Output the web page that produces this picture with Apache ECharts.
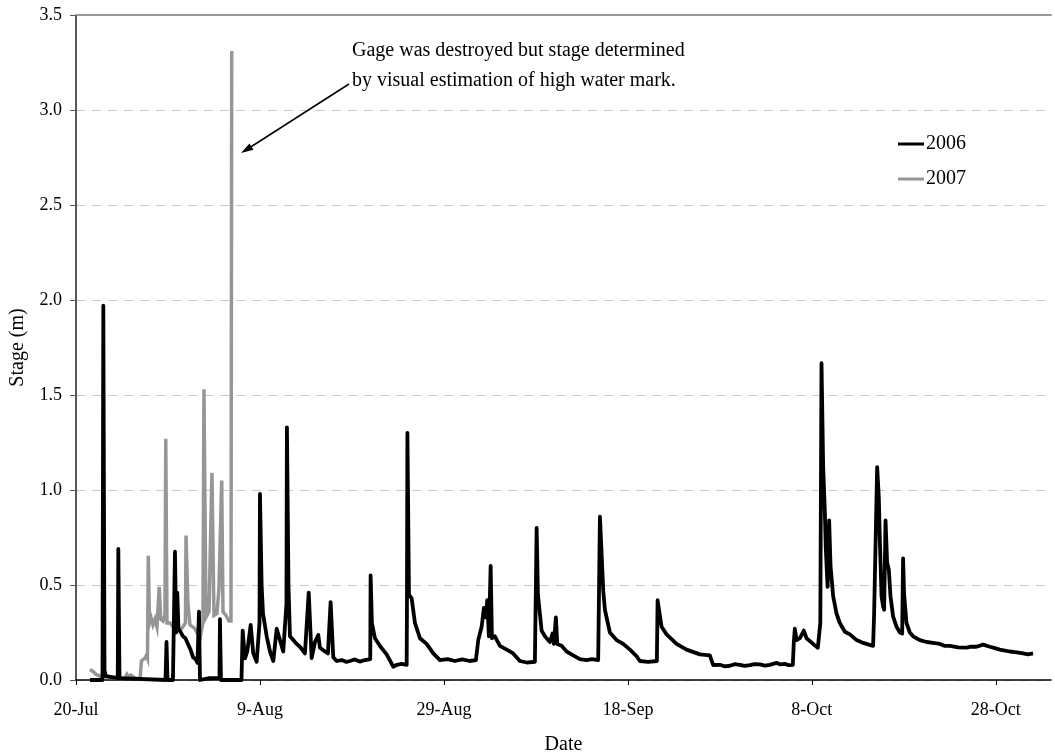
<!DOCTYPE html>
<html>
<head>
<meta charset="utf-8">
<script src="https://cdn.jsdelivr.net/npm/echarts@6/dist/echarts.min.js"></script>
<style>
  html, body { margin: 0; padding: 0; background: #fff; }
  #chart { width: 1055px; height: 752px; }
</style>
</head>
<body>
<div id="chart"></div>
<script>
// Stage record, x = days after 20 July, y = stage in metres
const tickDays = [0, 20, 40, 60, 80, 100];
const tickLabels = ['20-Jul', '9-Aug', '29-Aug', '18-Sep', '8-Oct', '28-Oct'];

const stage2006 = [
  [1.52, 0], [2.88, 0], [2.97, 1.97], [3.10, 0.05], [3.26, 0.02], [4.54, 0.01],
  [4.60, 0.69], [4.73, 0.01], [9.73, 0], [9.84, 0.20], [9.95, 0], [10.54, 0],
  [10.76, 0.675], [10.89, 0.25], [11.01, 0.46], [11.14, 0.27], [11.40, 0.25],
  [11.63, 0.23], [11.90, 0.22], [12.17, 0.19], [12.45, 0.16], [12.72, 0.12],
  [13.00, 0.11], [13.21, 0.09], [13.37, 0.36], [13.48, 0],
  [14.50, 0.01], [15.60, 0.01], [15.65, 0.32], [15.76, 0], [17.99, 0], [18.12, 0.26],
  [18.37, 0.114], [18.62, 0.15], [18.99, 0.29], [19.27, 0.14], [19.64, 0.096],
  [19.95, 0.30], [20.00, 0.98], [20.18, 0.50], [20.33, 0.35], [20.73, 0.23],
  [21.09, 0.15], [21.45, 0.10], [21.82, 0.27], [22.17, 0.21], [22.53, 0.15],
  [22.88, 0.40], [22.93, 1.33], [23.10, 0.50], [23.26, 0.23], [23.62, 0.21],
  [23.99, 0.19], [24.35, 0.175], [24.89, 0.14], [25.30, 0.46], [25.62, 0.115],
  [25.98, 0.20], [26.34, 0.237], [26.52, 0.17], [27.07, 0.15], [27.39, 0.14],
  [27.68, 0.41], [27.97, 0.12], [28.34, 0.10], [28.90, 0.105], [29.40, 0.095],
  [29.78, 0.10], [30.30, 0.108], [30.85, 0.097], [31.41, 0.105],
  [31.99, 0.11], [32.03, 0.55], [32.17, 0.30], [32.50, 0.22], [33.04, 0.18],
  [33.77, 0.135], [34.49, 0.07], [34.89, 0.08], [35.40, 0.085], [35.95, 0.08], [35.98, 0.39],
  [36.03, 1.30], [36.20, 0.45], [36.49, 0.43], [36.85, 0.30], [37.39, 0.22],
  [38.12, 0.19], [38.84, 0.14], [39.57, 0.105], [40.40, 0.11], [41.20, 0.10],
  [42.00, 0.108], [42.80, 0.10], [43.48, 0.105], [43.73, 0.21],
  [44.10, 0.28], [44.35, 0.38], [44.57, 0.33], [44.71, 0.42], [44.89, 0.23],
  [45.08, 0.60], [45.22, 0.22], [45.54, 0.23], [46.09, 0.18], [46.82, 0.16],
  [47.53, 0.14], [48.26, 0.10], [49.00, 0.092], [49.89, 0.096], [50.08, 0.80], [50.22, 0.45],
  [50.62, 0.26], [50.98, 0.23], [51.52, 0.20], [51.81, 0.245], [51.96, 0.19],
  [52.17, 0.33], [52.32, 0.19], [52.79, 0.18], [53.34, 0.15], [54.05, 0.13],
  [54.78, 0.11], [55.51, 0.105], [56.10, 0.11], [56.77, 0.105], [56.96, 0.86], [57.32, 0.47],
  [57.50, 0.37], [58.04, 0.25], [58.77, 0.21], [59.49, 0.19], [60.22, 0.16],
  [60.95, 0.125], [61.30, 0.10], [62.20, 0.095], [63.15, 0.10], [63.23, 0.42], [63.66, 0.28],
  [64.21, 0.24], [65.29, 0.19], [66.38, 0.16], [67.83, 0.135], [68.91, 0.13],
  [69.27, 0.079], [70.00, 0.08], [70.50, 0.072], [71.09, 0.075], [71.60, 0.083],
  [72.17, 0.08], [72.70, 0.074], [73.26, 0.078], [73.80, 0.084], [74.35, 0.082],
  [74.90, 0.076], [75.43, 0.08], [76.16, 0.09], [76.60, 0.082], [77.07, 0.085], [77.50, 0.078], [77.93, 0.08],
  [78.04, 0.20], [78.15, 0.27], [78.34, 0.21], [78.70, 0.22], [79.13, 0.26],
  [79.42, 0.22], [80.14, 0.19], [80.65, 0.17], [80.92, 0.30], [81.05, 1.667],
  [81.23, 1.12], [81.41, 0.89], [81.52, 0.69], [81.71, 0.49], [81.88, 0.84],
  [82.03, 0.60], [82.32, 0.44], [82.68, 0.35], [83.04, 0.30], [83.59, 0.254],
  [84.13, 0.24], [84.86, 0.21], [85.58, 0.195], [86.66, 0.18], [86.77, 0.35],
  [87.10, 1.12], [87.28, 0.96], [87.39, 0.74], [87.58, 0.44], [87.75, 0.386],
  [87.86, 0.37], [88.01, 0.84], [88.18, 0.62], [88.37, 0.58], [88.55, 0.44],
  [88.84, 0.333], [89.21, 0.28], [89.57, 0.25], [89.82, 0.245], [89.92, 0.64],
  [90.03, 0.45], [90.29, 0.30], [90.65, 0.25], [91.01, 0.23], [91.74, 0.21],
  [92.47, 0.20], [93.18, 0.195], [93.91, 0.19], [94.40, 0.18], [95.00, 0.18], [95.90, 0.172], [96.82, 0.17],
  [97.30, 0.176], [97.90, 0.175], [98.62, 0.186], [99.35, 0.175], [99.90, 0.168], [100.43, 0.16], [101.52, 0.15],
  [102.30, 0.145], [102.97, 0.14], [103.50, 0.135], [104.05, 0.14]
];

const stage2007 = [
  [1.52, 0.055], [1.85, 0.045], [2.17, 0.03], [2.61, 0.02], [3.70, 0.015],
  [4.78, 0.01], [5.33, 0.01], [5.54, 0.03], [5.76, 0.012], [5.98, 0.025],
  [6.41, 0.01], [6.96, 0.005], [7.12, 0.10], [7.28, 0.11], [7.50, 0.115],
  [7.66, 0.13], [7.77, 0.115], [7.86, 0.654], [7.99, 0.30], [8.15, 0.33],
  [8.37, 0.29], [8.59, 0.32], [8.80, 0.28], [9.05, 0.49], [9.21, 0.32],
  [9.46, 0.31], [9.67, 0.34], [9.76, 1.27], [9.89, 0.30], [10.22, 0.30],
  [10.54, 0.28], [10.87, 0.29], [11.30, 0.26], [11.63, 0.28], [11.90, 0.30],
  [11.96, 0.76], [12.17, 0.40], [12.39, 0.29], [12.93, 0.27], [13.48, 0.22],
  [13.80, 0.30], [13.91, 1.53], [14.13, 0.33], [14.46, 0.36], [14.78, 1.09],
  [15.00, 0.34], [15.33, 0.35], [15.54, 0.48], [15.84, 1.05], [15.98, 0.36],
  [16.30, 0.34], [16.63, 0.31], [16.85, 0.31], [16.90, 2.20], [16.93, 3.31]
];

const serif = "'Liberation Serif', 'Times New Roman', serif";

const chart = echarts.init(document.getElementById('chart'), null, { renderer: 'canvas' });

chart.setOption({
  animation: false,
  backgroundColor: '#ffffff',
  textStyle: { fontFamily: serif, color: '#000' },
  grid: { left: 76, top: 15, right: 4, bottom: 72, containLabel: false, outerBoundsMode: 'none' },
  legend: {
    orient: 'vertical',
    left: 893,
    top: 129,
    itemWidth: 26,
    itemHeight: 3,
    itemGap: 15,
    icon: 'rect',
    data: ['2006', '2007'],
    textStyle: { fontFamily: serif, fontSize: 20, color: '#000', padding: [0, 0, 0, -3] }
  },
  xAxis: [
    {
      type: 'value',
      min: 0,
      max: 106,
      interval: 20,
      name: 'Date',
      nameLocation: 'middle',
      nameGap: 55,
      nameTextStyle: { fontFamily: serif, fontSize: 20, color: '#000' },
      axisLine: { show: true, lineStyle: { color: '#000', width: 1.5 } },
      axisTick: {
        show: true, length: 5, inside: false,
        customValues: tickDays,
        lineStyle: { color: '#000', width: 1 }
      },
      axisLabel: {
        margin: 21,
        fontFamily: serif, fontSize: 18, color: '#000',
        customValues: tickDays,
        formatter: function (v) {
          const i = tickDays.indexOf(v);
          return i >= 0 ? tickLabels[i] : '';
        }
      },
      splitLine: { show: false }
    },
    {
      type: 'value',
      position: 'top',
      min: 0,
      max: 106,
      axisLine: { show: true, lineStyle: { color: '#999', width: 2 } },
      axisTick: { show: false },
      axisLabel: { show: false },
      splitLine: { show: false }
    }
  ],
  yAxis: {
    type: 'value',
    min: 0,
    max: 3.5,
    interval: 0.5,
    name: 'Stage (m)',
    nameLocation: 'middle',
    nameRotate: 90,
    nameGap: 48,
    nameTextStyle: { fontFamily: serif, fontSize: 20, color: '#000' },
    axisLine: { show: true, lineStyle: { color: '#555', width: 2 } },
    axisTick: { show: true, length: 6, lineStyle: { color: '#555', width: 1 } },
    axisLabel: {
      margin: 14,
      fontFamily: serif, fontSize: 18, color: '#000',
      formatter: function (v) { return v.toFixed(1); }
    },
    splitLine: {
      show: true,
      lineStyle: { color: '#c8c8c8', width: 1, type: [9, 7] }
    }
  },
  series: [
    {
      name: '2007',
      type: 'line',
      data: stage2007,
      showSymbol: false,
      symbol: 'none',
      lineStyle: { color: '#969696', width: 3.5, join: 'miter' },
      itemStyle: { color: '#969696' },
      z: 2
    },
    {
      name: '2006',
      type: 'line',
      data: stage2006,
      showSymbol: false,
      symbol: 'none',
      lineStyle: { color: '#000000', width: 3.8, join: 'round' },
      itemStyle: { color: '#000000' },
      z: 3
    }
  ],
  graphic: [
    {
      type: 'text',
      left: 352,
      top: 36,
      style: {
        text: 'Gage was destroyed but stage determined\nby visual estimation of high water mark.',
        font: "20px 'Liberation Serif', 'Times New Roman', serif",
        fill: '#000',
        lineHeight: 30
      },
      z: 10
    },
    {
      type: 'line',
      shape: { x1: 349, y1: 84, x2: 246, y2: 150 },
      style: { stroke: '#000', lineWidth: 1.5 },
      z: 10
    },
    {
      type: 'polygon',
      shape: { points: [[241, 153], [249.5, 143.5], [253.5, 149.8]] },
      style: { fill: '#000' },
      z: 10
    }
  ]
});
</script>
</body>
</html>
